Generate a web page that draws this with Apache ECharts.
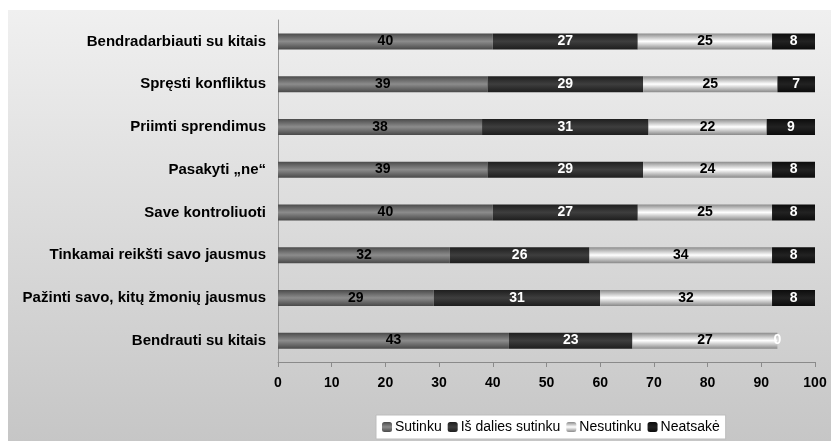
<!DOCTYPE html>
<html>
<head>
<meta charset="utf-8">
<script src="https://cdn.jsdelivr.net/npm/echarts@6/dist/echarts.min.js"></script>
<style>
  html, body { margin: 0; padding: 0; background: #fff; }
  #ChartDIV { width: 831px; height: 441px; }
</style>
</head>
<body>
<div id="ChartDIV"></div>
<script>
// kategorijos (iš apačios į viršų, kaip rodo ašis)
var categories = [
    'Bendrauti su kitais',
    'Pažinti savo, kitų žmonių jausmus',
    'Tinkamai reikšti savo jausmus',
    'Save kontroliuoti',
    'Pasakyti „ne“',
    'Priimti sprendimus',
    'Spręsti konfliktus',
    'Bendradarbiauti su kitais'
];
var seriesNames = ['Sutinku', 'Iš dalies sutinku', 'Nesutinku', 'Neatsakė'];
var sutinku = [43, 29, 32, 40, 39, 38, 39, 40];
var isDaliesSutinku = [23, 31, 26, 27, 29, 31, 29, 27];
var nesutinku = [27, 32, 34, 25, 24, 22, 25, 25];
var neatsake = [0, 8, 8, 8, 8, 9, 7, 8];
var xTicks = [0, 10, 20, 30, 40, 50, 60, 70, 80, 90, 100];

function barGradient(edge, mid) {
    return new echarts.graphic.LinearGradient(0, 0, 0, 1, [
        { offset: 0, color: edge },
        { offset: 0.5, color: mid },
        { offset: 1, color: edge }
    ]);
}

var fills = [
    barGradient('#4a4a4a', '#8c8c8c'),
    barGradient('#1e1e1e', '#3e3e3e'),
    barGradient('#8a8a8a', '#ffffff'),
    barGradient('#0c0c0c', '#222222')
];
var labelColors = ['#000', '#fff', '#000', '#fff'];
var values = [sutinku, isDaliesSutinku, nesutinku, neatsake];

var myChart = echarts.init(document.getElementById('ChartDIV'));

var option = {
    animation: false,
    backgroundColor: '#ffffff',
    textStyle: { fontFamily: 'Liberation Sans, Arial, sans-serif' },
    graphic: [{
        type: 'rect',
        z: -10,
        silent: true,
        shape: { x: 8, y: 10, width: 823, height: 431 },
        style: {
            fill: new echarts.graphic.LinearGradient(0, 0, 0, 1, [
                { offset: 0, color: '#f0f0f0' },
                { offset: 1, color: '#c6c6c6' }
            ])
        }
    }],
    grid: { left: 278, right: 16, top: 20, bottom: 79 },
    legend: {
        data: seriesNames,
        bottom: 2,
        left: 376,
        itemWidth: 10,
        itemHeight: 10,
        itemGap: 6,
        backgroundColor: '#ffffff',
        borderColor: '#bdbdbd',
        borderWidth: 1,
        padding: [5, 6, 5, 6],
        textStyle: { fontSize: 14, color: '#000', padding: [0, 0, 0, -2] }
    },
    xAxis: {
        type: 'value',
        min: xTicks[0],
        max: xTicks[xTicks.length - 1],
        interval: 10,
        splitLine: { show: false },
        axisLine: { show: true, lineStyle: { color: '#8a8a8a' } },
        axisTick: { show: true, length: 5, lineStyle: { color: '#8a8a8a' } },
        axisLabel: { fontSize: 14, fontWeight: 'bold', color: '#000', margin: 14 }
    },
    yAxis: {
        type: 'category',
        data: categories,
        axisLine: { show: true, lineStyle: { color: '#999' } },
        axisTick: { show: false },
        axisLabel: { fontSize: 15, fontWeight: 'bold', color: '#000', margin: 12 }
    },
    series: (function () {
        var res = [];
        for (var i = 0; i < seriesNames.length; i++) {
            res.push({
                name: seriesNames[i],
                type: 'bar',
                stack: 'total',
                barWidth: 16,
                data: values[i],
                itemStyle: { color: fills[i] },
                label: {
                    show: true,
                    position: 'inside',
                    fontSize: 14,
                    fontWeight: 'bold',
                    color: labelColors[i]
                }
            });
        }
        return res;
    })()
};

myChart.setOption(option);
</script>
</body>
</html>
